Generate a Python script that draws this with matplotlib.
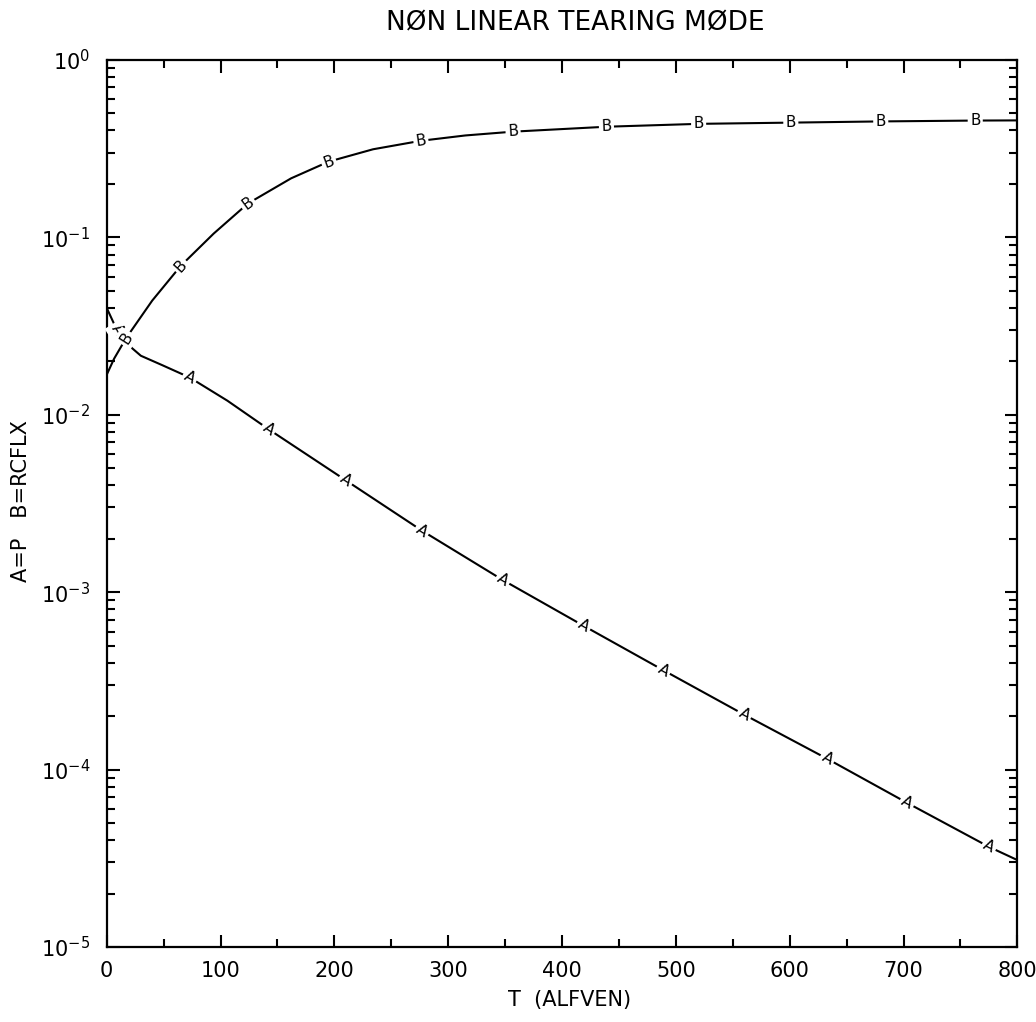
import numpy as np
import matplotlib
matplotlib.use("Agg")
import matplotlib.pyplot as plt
from matplotlib.ticker import MultipleLocator, LogLocator, NullFormatter, FixedLocator

plt.rcParams['font.family'] = ['DejaVu Sans']

# ---- data ----
# curve A : P
t_a = [0, 9, 16, 22, 30, 49, 73, 106, 142, 210, 277, 348, 419, 489, 560, 633, 703, 775, 800]
p_a = [0.040, 0.030, 0.027, 0.0238, 0.0215, 0.019, 0.0162, 0.0120, 0.0083, 0.00427, 0.00222,
       0.00117, 0.000646, 0.000363, 0.000204, 0.000115, 6.5e-5, 3.67e-5, 3.09e-5]
t_a_mark = [9, 73, 142, 210, 277, 348, 419, 489, 560, 633, 703, 775]
p_a_mark = [0.030, 0.0162, 0.0083, 0.00427, 0.00222, 0.00117, 0.000646, 0.000363,
            0.000204, 0.000115, 6.5e-5, 3.67e-5]

# curve B : RCFLX
t_b = [0, 6.5, 17, 40, 65, 94, 124, 162, 195, 234, 276, 315, 357, 439, 520, 601, 680, 763, 800]
r_b = [0.0168, 0.0207, 0.027, 0.044, 0.069, 0.105, 0.155, 0.215, 0.267, 0.3135, 0.35, 0.375,
       0.394, 0.42, 0.436, 0.443, 0.45, 0.455, 0.456]
t_b_mark = [17, 65, 124, 195, 276, 357, 439, 520, 601, 680, 763]
r_b_mark = [0.027, 0.069, 0.155, 0.267, 0.35, 0.394, 0.42, 0.436, 0.443, 0.45, 0.455]

x_ticks = [0, 100, 200, 300, 400, 500, 600, 700, 800]
title = "NØN LINEAR TEARING MØDE"
xlabel = "T  (ALFVEN)"
ylabel = "A=P   B=RCFLX"

# ---- figure ----
fig = plt.figure(figsize=(10.36, 10.22), dpi=100)
ax = fig.add_axes([0.103, 0.0734, 0.879, 0.868])
ax.set_yscale('log')
ax.set_xlim(0, 800)
ax.set_ylim(1e-5, 1)

ax.plot(t_a, p_a, color='black', lw=1.5, solid_capstyle='round', solid_joinstyle='round')
ax.plot(t_b, r_b, color='black', lw=1.5, solid_capstyle='round', solid_joinstyle='round')

fig.canvas.draw()

def place_letters(ts, vs, tline, vline, letter):
    logv = np.log10(vline)
    for t, v in zip(ts, vs):
        t0, t1 = max(t - 6, 0), min(t + 6, 800)
        y0 = 10 ** np.interp(t0, tline, logv)
        y1 = 10 ** np.interp(t1, tline, logv)
        p0 = ax.transData.transform((t0, y0))
        p1 = ax.transData.transform((t1, y1))
        ang = np.degrees(np.arctan2(p1[1] - p0[1], p1[0] - p0[0]))
        ax.text(t, v, letter, ha='center', va='center', fontsize=11,
                rotation=ang, rotation_mode='anchor', zorder=5,
                bbox=dict(boxstyle='square,pad=0.15', fc='white', ec='none'))

place_letters(t_a_mark, p_a_mark, t_a, p_a, 'A')
place_letters(t_b_mark, r_b_mark, t_b, r_b, 'B')

# ticks
ax.xaxis.set_major_locator(FixedLocator(x_ticks))
ax.xaxis.set_minor_locator(MultipleLocator(50))
ax.yaxis.set_major_locator(LogLocator(base=10, numticks=10))
ax.yaxis.set_minor_locator(LogLocator(base=10, subs=np.arange(2, 10), numticks=20))
ax.yaxis.set_minor_formatter(NullFormatter())
ax.tick_params(which='both', direction='in', top=True, right=True, width=1.5)
ax.tick_params(which='major', length=9, labelsize=15)
ax.tick_params(which='minor', length=6)
ax.tick_params(axis='x', which='major', pad=10)
ax.tick_params(axis='y', which='major', pad=12)
for s in ax.spines.values():
    s.set_linewidth(1.6)

fig.text(0.555, 0.977, title, ha='center', va='center', fontsize=19)
fig.text(0.55, 0.022, xlabel, ha='center', va='center', fontsize=15)
fig.text(0.02, 0.51, ylabel, ha='center', va='center', fontsize=15, rotation=90)

fig.savefig("out.png", dpi=100)
